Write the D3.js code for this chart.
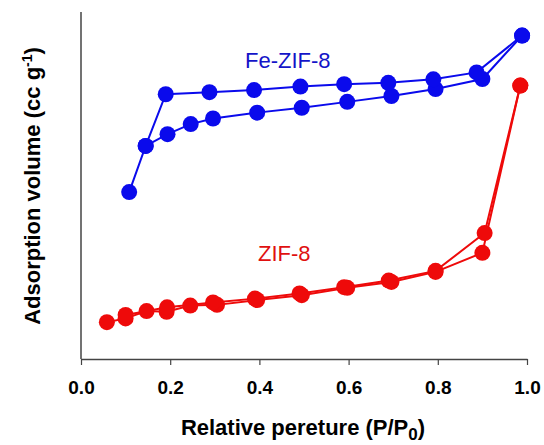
<!DOCTYPE html>
<html>
<head>
<meta charset="utf-8">
<script src="https://cdn.jsdelivr.net/npm/d3@7"></script>
<style>
  body { margin: 0; background: #fff; }
  text { font-family: Arial, "Liberation Sans", sans-serif; }
</style>
</head>
<body>
<div id="graph"></div>
<script>
// relative pressure values and adsorbed volume (arbitrary units, axis has no scale)
var feAdsX = [0.108, 0.145, 0.194, 0.246, 0.296, 0.395, 0.495, 0.597, 0.696, 0.795, 0.900, 0.989];
var feAdsY = [48.1, 61.4, 64.8, 67.7, 69.3, 71.0, 72.4, 74.1, 75.8, 77.8, 80.7, 93.2];
var feDesX = [0.989, 0.887, 0.790, 0.689, 0.590, 0.492, 0.388, 0.288, 0.190, 0.145];
var feDesY = [93.2, 82.6, 80.6, 79.6, 79.2, 78.5, 77.5, 76.9, 76.3, 61.4];

var zifAdsX = [0.058, 0.100, 0.147, 0.192, 0.245, 0.305, 0.395, 0.495, 0.597, 0.696, 0.795, 0.900, 0.985];
var zifAdsY = [10.6, 11.7, 13.8, 13.6, 15.4, 15.6, 17.0, 18.4, 20.5, 22.2, 25.1, 30.6, 78.8];
var zifDesX = [0.985, 0.905, 0.795, 0.690, 0.590, 0.490, 0.390, 0.296, 0.193, 0.100];
var zifDesY = [78.8, 36.3, 25.4, 22.6, 20.7, 18.9, 17.4, 16.3, 14.9, 12.7];

var xTicks = [0.0, 0.2, 0.4, 0.6, 0.8, 1.0];

var width = 544, height = 445;

var svg = d3.select("#graph")
  .append("svg")
    .attr("width", width)
    .attr("height", height);

var x = d3.scaleLinear()
  .domain([0, 1])
  .range([81, 527]);

var y = d3.scaleLinear()
  .domain([0, 100])
  .range([359, 12]);

// x axis
var xAxis = svg.append("g")
  .attr("transform", "translate(0," + y(0) + ")")
  .call(d3.axisBottom(x).tickValues(xTicks).tickFormat(d3.format(".1f")).tickSizeInner(6).tickSizeOuter(0).tickPadding(16));
xAxis.select(".domain").attr("stroke", "#444").attr("stroke-width", 1.5);
xAxis.selectAll(".tick line").attr("stroke", "#444").attr("stroke-width", 1.2);
xAxis.selectAll(".tick text")
  .attr("fill", "#000")
  .style("font-size", "19px")
  .style("font-weight", "bold");

// y axis, no ticks
svg.append("line")
  .attr("x1", x(0)).attr("x2", x(0))
  .attr("y1", y(0)).attr("y2", y(100))
  .attr("stroke", "#444")
  .attr("stroke-width", 1.5);

var pts = function(xs, ys) {
  return xs.map(function(d, i) { return [d, ys[i]]; });
};

var line = d3.line()
  .x(function(d) { return x(d[0]) })
  .y(function(d) { return y(d[1]) });

var series = [
  {data: pts(feAdsX, feAdsY), color: "#0a0aec"},
  {data: pts(feDesX, feDesY), color: "#0a0aec"},
  {data: pts(zifAdsX, zifAdsY), color: "#ee0a0a"},
  {data: pts(zifDesX, zifDesY), color: "#ee0a0a"}
];

series.forEach(function(s) {
  svg.append("path")
    .datum(s.data)
    .attr("fill", "none")
    .attr("stroke", s.color)
    .attr("stroke-width", 2)
    .attr("d", line);
});

series.forEach(function(s) {
  svg.append("g")
    .selectAll("circle")
    .data(s.data)
    .enter()
    .append("circle")
      .attr("cx", function(d) { return x(d[0]) })
      .attr("cy", function(d) { return y(d[1]) })
      .attr("r", 8)
      .attr("fill", s.color);
});

// labels
svg.append("text")
  .attr("x", 245).attr("y", 68)
  .attr("fill", "#1414c8")
  .style("font-size", "22px")
  .text("Fe-ZIF-8");

svg.append("text")
  .attr("x", 258).attr("y", 261)
  .attr("fill", "#e01010")
  .style("font-size", "22px")
  .text("ZIF-8");

// axis titles
var xt = svg.append("text")
  .attr("x", 303).attr("y", 435)
  .attr("text-anchor", "middle")
  .style("font-size", "22px")
  .style("font-weight", "bold")
  .text("Relative pereture (P/P");
xt.append("tspan").attr("dy", 5).style("font-size", "17px").text("0");
xt.append("tspan").attr("dy", -5).text(")");

var yt = svg.append("text")
  .attr("transform", "translate(40,186) rotate(-90)")
  .attr("text-anchor", "middle")
  .style("font-size", "22px")
  .style("font-weight", "bold")
  .text("Adsorption volume (cc g");
yt.append("tspan").attr("dy", -8).style("font-size", "14px").text("-1");
yt.append("tspan").attr("dy", 8).text(")");
</script>
</body>
</html>
